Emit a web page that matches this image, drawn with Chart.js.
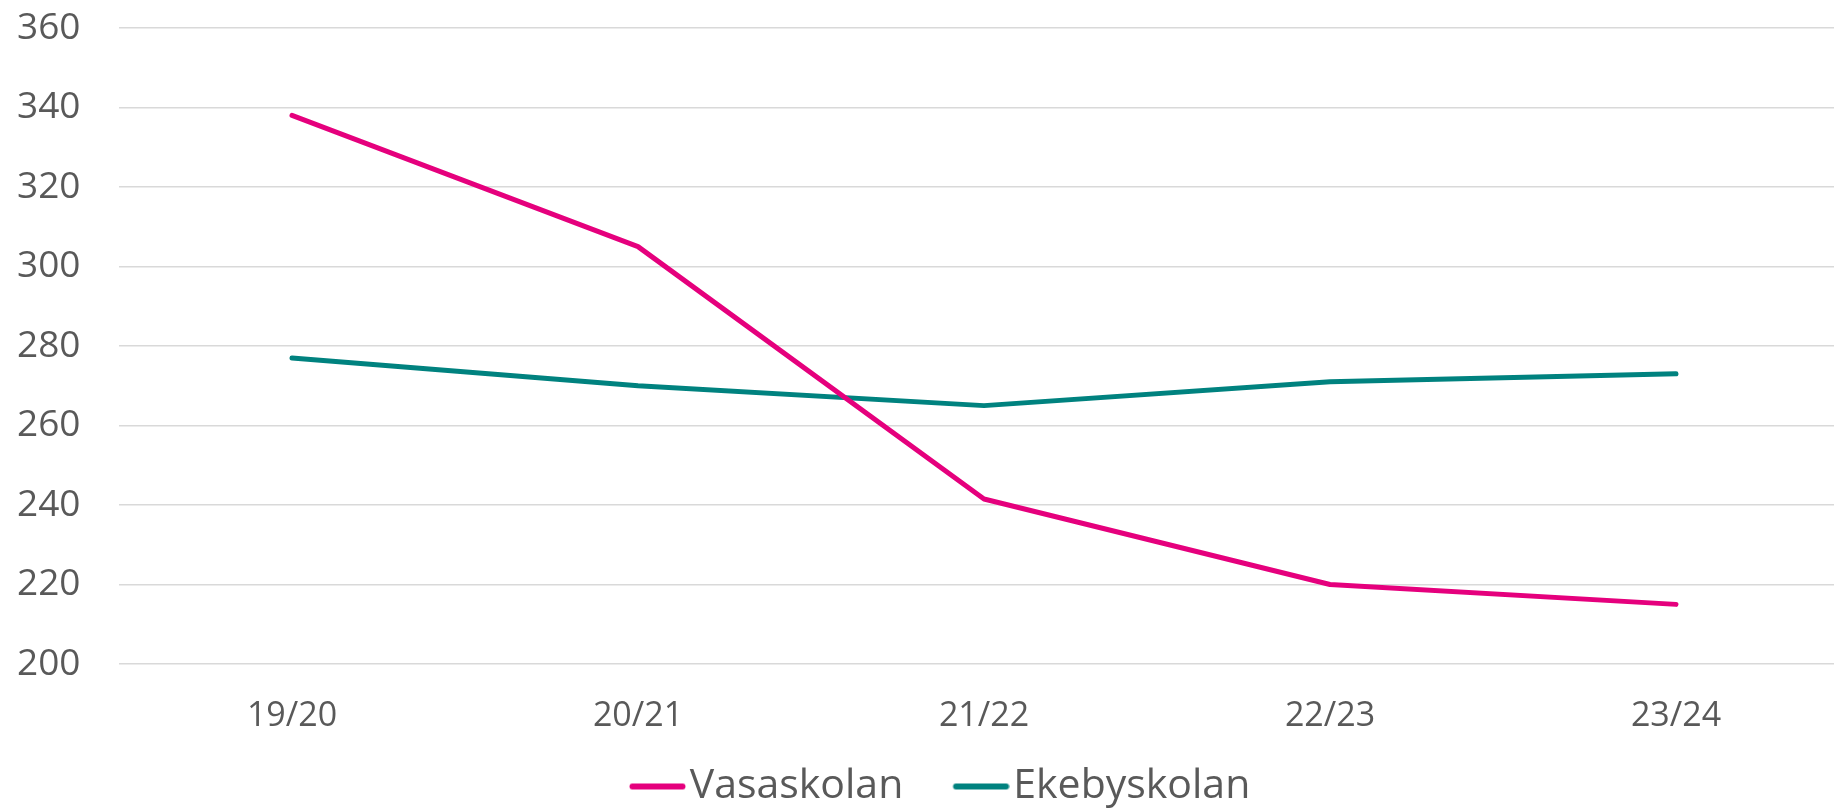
<!DOCTYPE html>
<html>
<head>
<meta charset="utf-8">
<script src="https://cdn.jsdelivr.net/npm/chart.js@4.4.1/dist/chart.umd.min.js"></script>
<style>
html, body { margin: 0; padding: 0; background: #ffffff; overflow: hidden; }
#wrap { width: 1834px; height: 811px; overflow: hidden; position: relative; background: #ffffff; }
canvas { display: block; }
</style>
</head>
<body>
<div id="wrap"><canvas id="c" width="1850" height="817"></canvas></div>
<script>
// ---- data ----
const categories = ['19/20', '20/21', '21/22', '22/23', '23/24'];
const seriesNames = ['Vasaskolan', 'Ekebyskolan'];
const vasaskolan = [338, 305, 241.5, 220, 215];
const ekebyskolan = [277, 270, 265, 271, 273];
const yTickValues = [200, 220, 240, 260, 280, 300, 320, 340, 360];

// ---- styles ----
const textColor = '#595959';
const colors = ['#E5007D', '#00827F'];
const FONT = "'Open Sans', 'Noto Sans', sans-serif";

// legend glyph: a short thick line with round caps, placed just before the text
function legendLine(color) {
  const c = document.createElement('canvas');
  c.width = 91; c.height = 8;
  const g = c.getContext('2d');
  g.strokeStyle = color; g.lineWidth = 6; g.lineCap = 'round';
  g.beginPath(); g.moveTo(37.5, 4); g.lineTo(87.5, 4); g.stroke();
  return c;
}

const legendShift = {
  id: 'legendShift',
  afterLayout(chart) {
    const l = chart.legend;
    if (l) { l.left -= 2; l.right -= 2; }
  }
};

new Chart(document.getElementById('c').getContext('2d'), {
  type: 'line',
  data: {
    labels: categories,
    datasets: [
      { label: seriesNames[0], data: vasaskolan, borderColor: colors[0], backgroundColor: colors[0],
        borderWidth: 5, pointRadius: 0, pointHoverRadius: 0, tension: 0,
        borderCapStyle: 'round', borderJoinStyle: 'round', fill: false },
      { label: seriesNames[1], data: ekebyskolan, borderColor: colors[1], backgroundColor: colors[1],
        borderWidth: 5, pointRadius: 0, pointHoverRadius: 0, tension: 0,
        borderCapStyle: 'round', borderJoinStyle: 'round', fill: false }
    ]
  },
  options: {
    responsive: false,
    animation: false,
    devicePixelRatio: 1,
    layout: { padding: { top: 28, right: 1, bottom: 0, left: 17 } },
    plugins: {
      legend: {
        position: 'bottom',
        labels: {
          font: { family: FONT, size: 41 },
          color: textColor,
          usePointStyle: true,
          pointStyleWidth: 57.5,
          padding: 32,
          generateLabels(chart) {
            const items = Chart.defaults.plugins.legend.labels.generateLabels(chart);
            items.forEach(it => { it.pointStyle = legendLine(it.strokeStyle); });
            return items;
          }
        }
      },
      tooltip: { enabled: false }
    },
    scales: {
      x: {
        offset: true,
        grid: { display: false, drawTicks: false },
        border: { display: false },
        ticks: { font: { family: FONT, size: 34 }, color: textColor, padding: 32, maxRotation: 0 },
        afterFit(s) { s.height = 70; }
      },
      y: {
        min: yTickValues[0],
        max: yTickValues[yTickValues.length - 1],
        afterBuildTicks(s) { s.ticks = yTickValues.map(v => ({ value: v })); },
        ticks: { font: { family: FONT, size: 37 }, color: textColor, padding: 0, crossAlign: 'far' },
        grid: { color: '#d9d9d9', lineWidth: 1.5, drawTicks: false },
        border: { display: false },
        afterFit(s) { s.width = 102; }
      }
    }
  },
  plugins: [legendShift]
});
</script>
</body>
</html>
